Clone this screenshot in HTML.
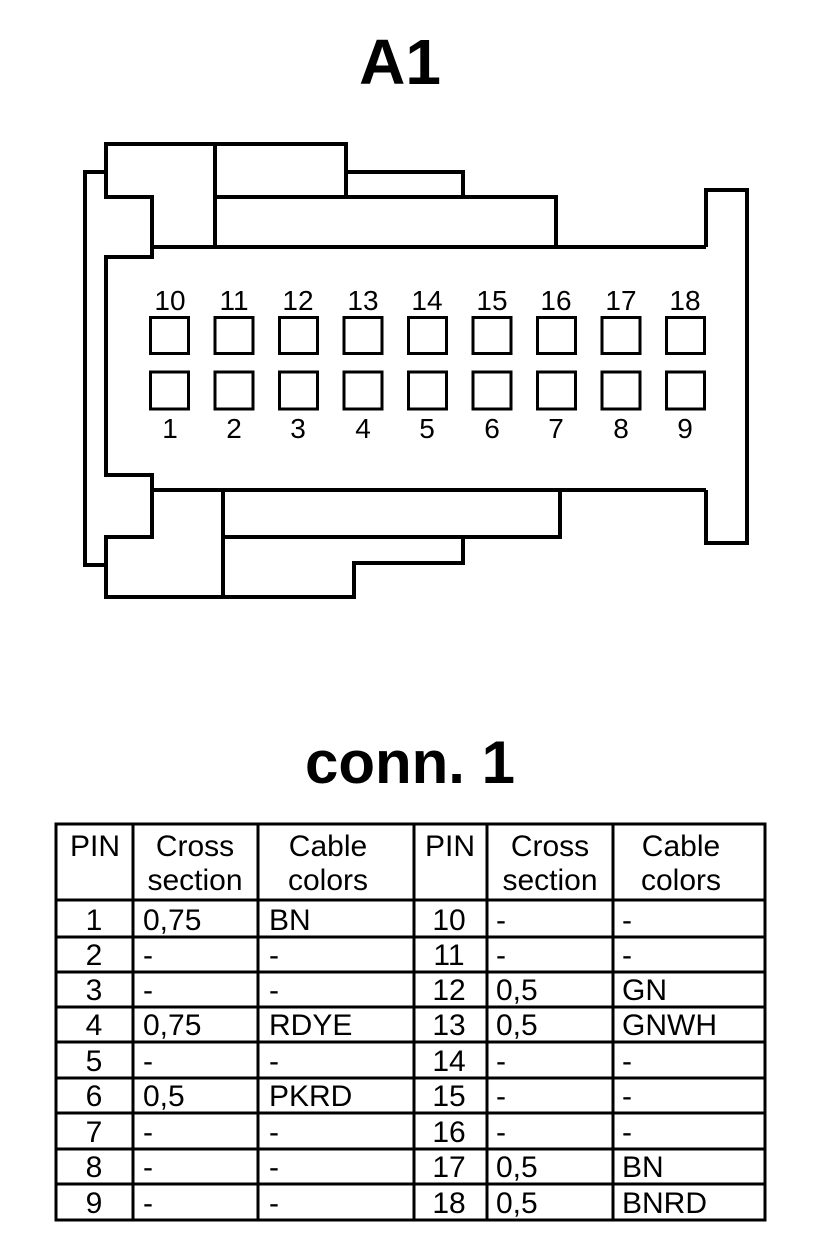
<!DOCTYPE html>
<html><head><meta charset="utf-8"><style>
html,body{margin:0;padding:0;background:#fff;}
svg{display:block;}
text{font-family:"Liberation Sans",Arial,sans-serif;fill:#000;}
</style></head><body>
<svg width="816" height="1260" viewBox="0 0 816 1260" xmlns="http://www.w3.org/2000/svg">
<text x="400" y="84" font-size="64" font-weight="bold" text-anchor="middle">A1</text>
<g fill="none" stroke="#000" stroke-width="4" stroke-linejoin="miter">
<polyline points="106,172 85,172 85,565 106,565"/>
<polyline points="152,247 152,197 106,197 106,144 346,144 346,172 463,172 463,197 556,197 556,247"/>
<line x1="152" y1="247" x2="706" y2="247"/>
<polyline points="706,247 706,190 747,190 747,543 706,543 706,490"/>
<polyline points="152,247 152,257 106,257 106,475 152,475 152,490"/>
<line x1="152" y1="490" x2="706" y2="490"/>
<polyline points="152,490 152,537 106,537 106,597 354,597 354,563 463,563 463,537 560,537 560,490"/>
<line x1="223" y1="537" x2="463" y2="537"/>
<line x1="223" y1="490" x2="223" y2="597"/>
<line x1="215" y1="144" x2="215" y2="247"/>
<line x1="215" y1="197" x2="463" y2="197"/>
<line x1="346" y1="172" x2="346" y2="197"/>
</g>
<g fill="none" stroke="#000" stroke-width="3">
<rect x="150.5" y="317.5" width="38" height="36"/><rect x="215" y="317.5" width="38" height="36"/><rect x="279.5" y="317.5" width="38" height="36"/><rect x="344" y="317.5" width="38" height="36"/><rect x="408.5" y="317.5" width="38" height="36"/><rect x="473" y="317.5" width="38" height="36"/><rect x="537.5" y="317.5" width="38" height="36"/><rect x="602" y="317.5" width="38" height="36"/><rect x="666.5" y="317.5" width="38" height="36"/>
<rect x="150.5" y="372" width="38" height="37"/><rect x="215" y="372" width="38" height="37"/><rect x="279.5" y="372" width="38" height="37"/><rect x="344" y="372" width="38" height="37"/><rect x="408.5" y="372" width="38" height="37"/><rect x="473" y="372" width="38" height="37"/><rect x="537.5" y="372" width="38" height="37"/><rect x="602" y="372" width="38" height="37"/><rect x="666.5" y="372" width="38" height="37"/>
</g>
<g font-size="28" text-anchor="middle">
<text x="170" y="310">10</text><text x="234" y="310">11</text><text x="298" y="310">12</text><text x="363" y="310">13</text><text x="427" y="310">14</text><text x="492" y="310">15</text><text x="556" y="310">16</text><text x="621" y="310">17</text><text x="685" y="310">18</text>
<text x="170" y="438">1</text><text x="234" y="438">2</text><text x="298" y="438">3</text><text x="363" y="438">4</text><text x="427" y="438">5</text><text x="492" y="438">6</text><text x="556" y="438">7</text><text x="621" y="438">8</text><text x="685" y="438">9</text>
</g>
<text x="410" y="783" font-size="60" font-weight="bold" text-anchor="middle">conn. 1</text>
<g stroke="#000" stroke-width="3" fill="none">
<rect x="56" y="824" width="709" height="396"/>
<line x1="133" y1="824" x2="133" y2="1220"/><line x1="258" y1="824" x2="258" y2="1220"/><line x1="414" y1="824" x2="414" y2="1220"/><line x1="487" y1="824" x2="487" y2="1220"/><line x1="613" y1="824" x2="613" y2="1220"/>
<line x1="56" y1="900" x2="765" y2="900"/><line x1="56" y1="937" x2="765" y2="937"/><line x1="56" y1="972" x2="765" y2="972"/><line x1="56" y1="1007" x2="765" y2="1007"/><line x1="56" y1="1042" x2="765" y2="1042"/><line x1="56" y1="1078" x2="765" y2="1078"/><line x1="56" y1="1113" x2="765" y2="1113"/><line x1="56" y1="1149" x2="765" y2="1149"/><line x1="56" y1="1184" x2="765" y2="1184"/>
</g>
<g font-size="30" text-anchor="middle">
<text x="95" y="856">PIN</text><text x="195" y="856">Cross</text><text x="195" y="890">section</text><text x="328" y="856">Cable</text><text x="328" y="890">colors</text>
<text x="450" y="856">PIN</text><text x="550" y="856">Cross</text><text x="550" y="890">section</text><text x="681" y="856">Cable</text><text x="681" y="890">colors</text>
<text x="94" y="930">1</text><text x="94" y="965">2</text><text x="94" y="1000">3</text><text x="94" y="1035">4</text><text x="94" y="1071">5</text><text x="94" y="1106">6</text><text x="94" y="1142">7</text><text x="94" y="1177">8</text><text x="94" y="1213">9</text>
<text x="449" y="930">10</text><text x="449" y="965">11</text><text x="449" y="1000">12</text><text x="449" y="1035">13</text><text x="449" y="1071">14</text><text x="449" y="1106">15</text><text x="449" y="1142">16</text><text x="449" y="1177">17</text><text x="449" y="1213">18</text>
</g>
<g font-size="30">
<text x="143" y="930">0,75</text><text x="143" y="965">-</text><text x="143" y="1000">-</text><text x="143" y="1035">0,75</text><text x="143" y="1071">-</text><text x="143" y="1106">0,5</text><text x="143" y="1142">-</text><text x="143" y="1177">-</text><text x="143" y="1213">-</text>
<text x="269" y="930">BN</text><text x="269" y="965">-</text><text x="269" y="1000">-</text><text x="269" y="1035">RDYE</text><text x="269" y="1071">-</text><text x="269" y="1106">PKRD</text><text x="269" y="1142">-</text><text x="269" y="1177">-</text><text x="269" y="1213">-</text>
<text x="496" y="930">-</text><text x="496" y="965">-</text><text x="496" y="1000">0,5</text><text x="496" y="1035">0,5</text><text x="496" y="1071">-</text><text x="496" y="1106">-</text><text x="496" y="1142">-</text><text x="496" y="1177">0,5</text><text x="496" y="1213">0,5</text>
<text x="622" y="930">-</text><text x="622" y="965">-</text><text x="622" y="1000">GN</text><text x="622" y="1035">GNWH</text><text x="622" y="1071">-</text><text x="622" y="1106">-</text><text x="622" y="1142">-</text><text x="622" y="1177">BN</text><text x="622" y="1213">BNRD</text>
</g>
</svg>
</body></html>
